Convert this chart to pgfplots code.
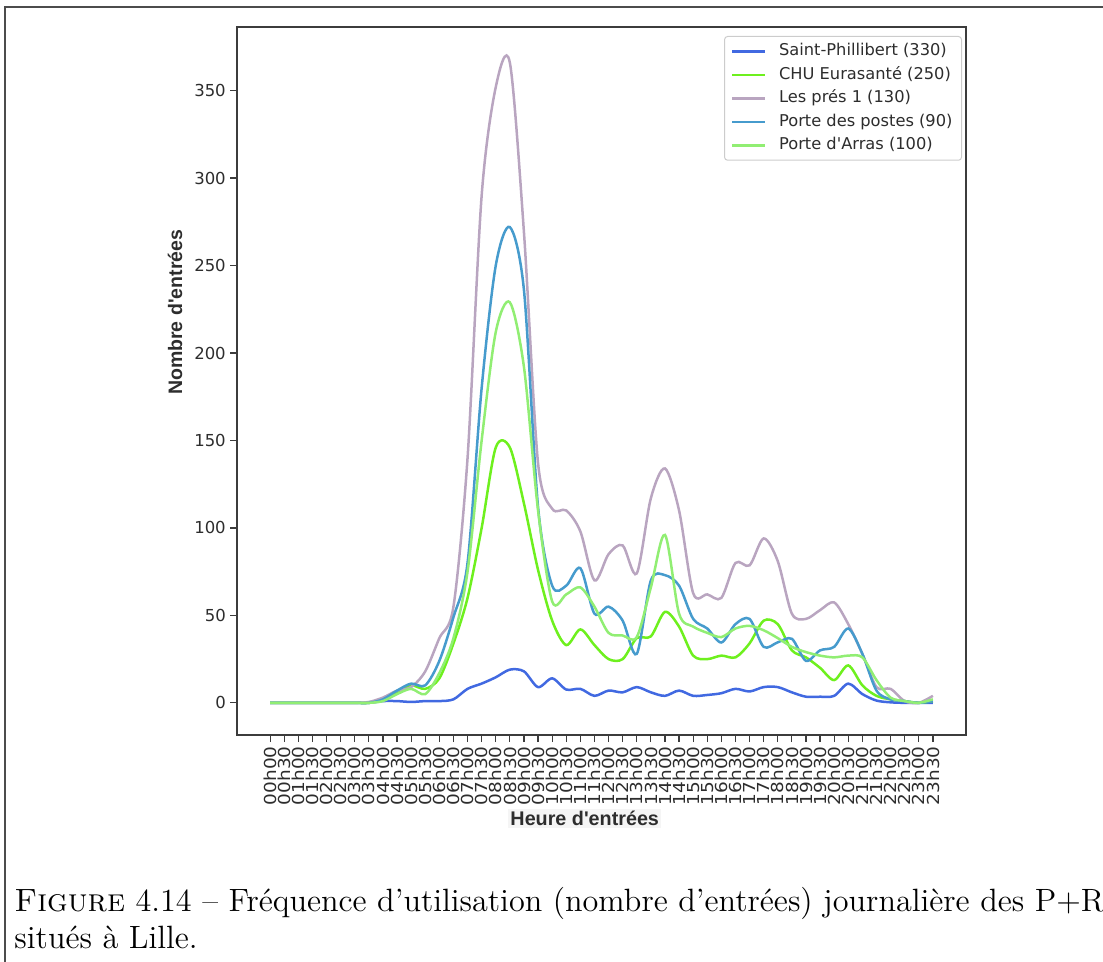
\documentclass[border=0pt]{standalone}
\usepackage{fontspec}
\usepackage{pgfplots}
\pgfplotsset{compat=1.18}
\usepackage{pgfplotstable}
\newfontfamily\djv{DejaVu Sans}
\newfontfamily\djvwide[FakeStretch=1.12]{DejaVu Sans}
\newfontfamily\lib{Liberation Sans}
\definecolor{cSP}{RGB}{65,105,225}
\definecolor{cCHU}{RGB}{110,240,30}
\definecolor{cLP}{RGB}{185,165,192}
\definecolor{cPDP}{RGB}{70,155,205}
\definecolor{cPDA}{RGB}{145,238,115}
\definecolor{spine}{RGB}{60,60,60}
\definecolor{txt}{RGB}{45,45,45}
\pgfplotstableread{
i SP CHU LP PDP PDA
0 0 0 0 0 0
1 0 0 0 0 0
2 0 0 0 0 0
3 0 0 0 0 0
4 0 0 0 0 0
5 0 0 0 0 0
6 0 0 0 0 0
7 0 0 0.5 0 0
8 1 2 3 2 1
9 1 6 7 7 5
10 0.5 10 9 11 8
11 1 8 18 10 5
12 1 14 37 24 17
13 2 34 55 49 37
14 8 60 140 80 75
15 11 100 290 180 150
16 14.6 146 352 250 212
17 19 146 366 272 229
18 18 114 269 236 192
19 9 76 137 112 110
20 14 47 111 67 58
21 7.6 33 110 67 62
22 8 42 98 77 66
23 4 33 70 51 55
24 7 25 85 55 40
25 6 25 90 47 38.5
26 9 37 74 28 37.6
27 6 38 117 70 66
28 4 52 134 73 96
29 7 43.6 110 67 51
30 4 27 62.7 48 43.6
31 4.5 25 62 42.5 40
32 5.5 27 60 34.5 37.6
33 8 26 80 45 42.5
34 6.5 34 78.6 48 44
35 9 47 94 32 41.5
36 9 45 81 34.6 37
37 6 30 51 36.6 32
38 3.5 26 48 24 29
39 3.5 20 53 30 27
40 4 13 57.4 32 26
41 11 21.4 45 42.5 27
42 5 10 28 28 26
43 1.3 4 9 7 13
44 0.3 2 8 2 3
45 0 1 1 1 1
46 0 0 0 0 0
47 0 1 4 1 2
}\data
\begin{document}
\begin{tikzpicture}
\useasboundingbox (0,0) rectangle (1103*0.4pt,-961*0.4pt);
\draw[gray!60!black, line width=0.6pt] (5*0.4pt,-970*0.4pt) -- (5*0.4pt,-7*0.4pt) -- (1110*0.4pt,-7*0.4pt);
\begin{axis}[
  at={(237*0.4pt,-735*0.4pt)}, anchor=south west,
  scale only axis, width=729*0.4pt, height=708*0.4pt,
  xmin=-2.35, xmax=49.35, ymin=-18.4, ymax=386.4,
  xtick={0,...,47},
  xticklabels={00h00,00h30,01h00,01h30,02h00,02h30,03h00,03h30,04h00,04h30,05h00,05h30,06h00,06h30,07h00,07h30,08h00,08h30,09h00,09h30,10h00,10h30,11h00,11h30,12h00,12h30,13h00,13h30,14h00,14h30,15h00,15h30,16h00,16h30,17h00,17h30,18h00,18h30,19h00,19h30,20h00,20h30,21h00,21h30,22h00,22h30,23h00,23h30},
  ytick={0,50,...,350},
  tick align=outside, xtick pos=bottom, ytick pos=left,
  major tick length=2.8pt,
  every tick/.style={spine, line width=0.5pt},
  axis line style={spine, line width=0.6pt},
  /pgf/number format/assume math mode=true,
  tick label style={font=\djv\fontsize{6.6}{7}\selectfont, text=txt},
  x tick label style={rotate=90, anchor=east, inner sep=1.5pt, font=\djvwide\fontsize{6.6}{7}\selectfont},
  y tick label style={inner sep=1.5pt},
  xlabel={Heure d'entrées}, ylabel={Nombre d'entrées},
  every axis x label/.style={at={(axis description cs:0.477,-0.118)}, anchor=center, font=\lib\bfseries\fontsize{7.9}{9}\selectfont, text=txt, fill=black!4, inner sep=1pt},
  every axis y label/.style={at={(axis description cs:-0.085,0.597)}, rotate=90, anchor=center, font=\lib\bfseries\fontsize{7.8}{9}\selectfont, text=txt},
  legend cell align=left,
  legend style={at={(0.9945,0.9873)}, anchor=north east, draw=black!20, rounded corners=1.2pt,
    font=\djv\fontsize{6.5}{7}\selectfont, text=txt, row sep=1.1pt, column sep=4pt, inner xsep=2.6pt, inner ysep=1.8pt,
    nodes={inner sep=1pt, text height=4.9pt, text depth=1.4pt}},
  legend image code/.code={\draw[#1, line width=1pt] (0pt,0pt) -- (13.2pt,0pt);},
  every axis plot/.append style={line width=1pt, smooth, tension=0.5, no markers},
]
\addplot[cSP] table[x=i, y=SP] {\data};
\addlegendentry{Saint-Phillibert (330)}
\addplot[cCHU] table[x=i, y=CHU] {\data};
\addlegendentry{CHU Eurasanté (250)}
\addplot[cLP] table[x=i, y=LP] {\data};
\addlegendentry{Les prés 1 (130)}
\addplot[cPDP] table[x=i, y=PDP] {\data};
\addlegendentry{Porte des postes (90)}
\addplot[cPDA] table[x=i, y=PDA] {\data};
\addlegendentry{Porte d'Arras (100)}
\end{axis}
\node[anchor=base west, inner sep=0pt, font=\fontsize{12.9}{15}\selectfont] at (14*0.4pt,-911*0.4pt) {\textsc{Figure} 4.14 – Fréquence d’utilisation (nombre d’entrées) journalière des P+R};
\node[anchor=base west, inner sep=0pt, font=\fontsize{12.9}{15}\selectfont] at (14*0.4pt,-948*0.4pt) {situés à Lille.};
\end{tikzpicture}
\end{document}
